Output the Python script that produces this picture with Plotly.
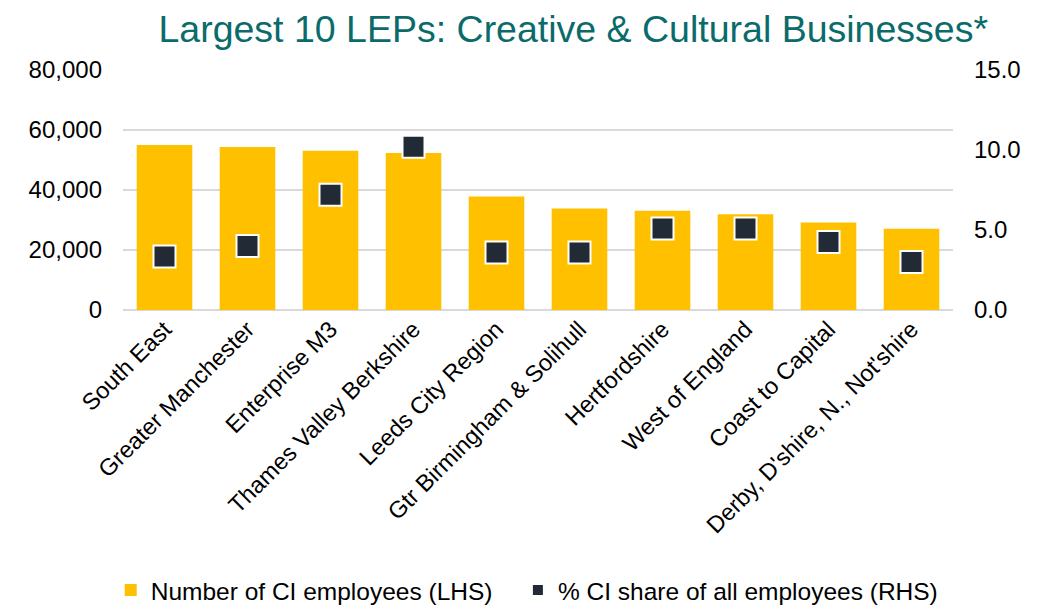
import plotly.graph_objects as go

categories = ["South East", "Greater Manchester", "Enterprise M3", "Thames Valley Berkshire",
              "Leeds City Region", "Gtr Birmingham & Solihull", "Hertfordshire",
              "West of England", "Coast to Capital", "Derby, D'shire, N., Not'shire"]
employees = [55000, 54300, 53100, 52300, 37800, 33800, 33100, 31900, 29200, 27100]
share_pct = [3.35, 4.0, 7.2, 10.2, 3.6, 3.6, 5.1, 5.1, 4.25, 3.0]
series_names = ["Number of CI employees (LHS)", "% CI share of all employees (RHS)"]

FONT = "Liberation Sans, Arial, sans-serif"
GOLD = "#FFC000"
DARK = "#222A35"
GRID = "#D9D9D9"
PAD = "\u00a0\u00a0\u00a0"

fig = go.Figure()
fig.add_trace(go.Bar(x=categories, y=employees, name=series_names[0] + PAD,
                     marker=dict(color=GOLD, line=dict(width=0)), yaxis="y"))
fig.add_trace(go.Scatter(x=categories, y=share_pct, name=series_names[1],
                         mode="markers", yaxis="y2",
                         marker=dict(symbol="square", size=22, color=DARK,
                                     line=dict(color="white", width=2))))

fig.update_layout(
    width=1048, height=606,
    margin=dict(l=123, r=95, t=70, b=296, autoexpand=False),
    paper_bgcolor="white", plot_bgcolor="white",
    font=dict(family=FONT, color="#000000", size=24),
    title=dict(text="Largest 10 LEPs: Creative & Cultural Businesses*",
               x=0.547, xanchor="center", y=0.952, yanchor="middle",
               font=dict(family=FONT, size=37.5, color="#0B6B6B")),
    bargap=0.33,
    showlegend=True,
    legend=dict(orientation="h", x=0.487, xanchor="center", y=-1.167, yanchor="middle",
                font=dict(size=24.5, color="#000000"), itemsizing="constant",
                traceorder="normal"),
    xaxis=dict(type="category", range=[-0.5, 9.5], tickangle=-45, tickfont=dict(size=23.5),
               showline=False, showgrid=False, ticks="", automargin=False),
    yaxis=dict(range=[0, 80000], dtick=20000, tickformat=",", showgrid=True,
               gridcolor=GRID, gridwidth=2, zeroline=True, zerolinecolor=GRID,
               zerolinewidth=2, tickfont=dict(size=24), ticks="", ticklabelstandoff=20,
               automargin=False),
    yaxis2=dict(range=[0, 15], dtick=5, tickformat=".1f", overlaying="y", side="right",
                showgrid=False, zeroline=False, tickfont=dict(size=24), ticks="",
                ticklabelstandoff=20, automargin=False),
)

fig.write_html("out.html", config={"displayModeBar": False},
               post_script="document.body.style.margin='0';document.body.style.overflow='hidden';")
